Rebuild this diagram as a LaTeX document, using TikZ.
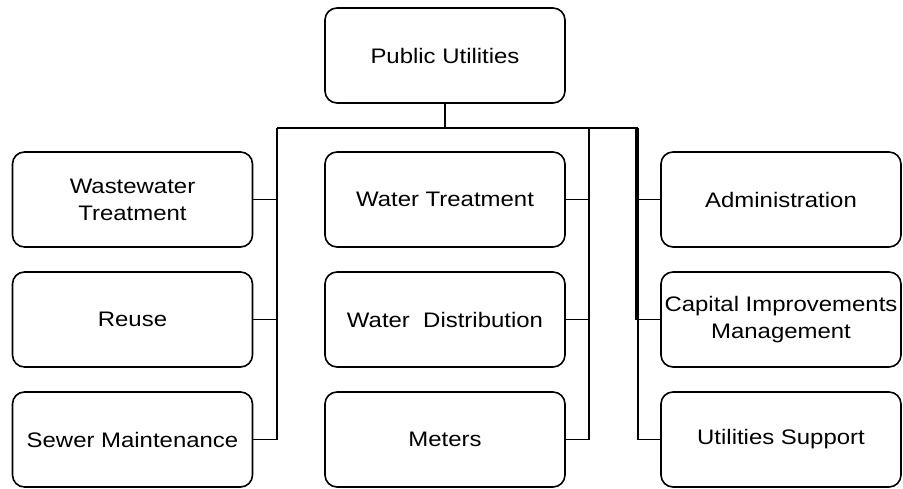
\documentclass[tikz,border=0pt]{standalone}
\usepackage{fontspec}
\setmainfont[FakeStretch=1.14]{Liberation Sans}
\begin{document}
\begin{tikzpicture}[x=1pt,y=-1pt,
  unit/.style={draw, line width=1.6pt, rounded corners=12pt, fill=white,
    minimum width=240pt, minimum height=95pt, align=center, inner sep=2pt,
    font=\fontsize{21}{27}\selectfont},
  link/.style={line width=1.6pt}]
  \useasboundingbox (0,0) rectangle (903,489);

  % head of the department
  \node[unit] (pu) at (445,55.5) {Public Utilities};

  % wastewater column
  \node[unit] (ww) at (132.5,199.5) {Wastewater\\Treatment};
  \node[unit] (ru) at (132.5,319.5) {Reuse};
  \node[unit] (sm) at (132.5,439.5) {Sewer Maintenance};

  % water column
  \node[unit] (wt) at (445,199.5) {Water Treatment};
  \node[unit] (wd) at (445,319.5) {Water\ \ Distribution};
  \node[unit] (me) at (445,439.5) {Meters};

  % support column
  \node[unit] (ad) at (781,199.5) {Administration};
  \node[unit] (ci) at (781,319.5) {Capital Improvements\\Management};
  \node[unit] (us) at (781,439.5) {Utilities Support};

  % junction points on the main bus
  \coordinate (jt) at (445,128);
  \coordinate (jl) at (277,128);
  \coordinate (jm) at (589,128);
  \coordinate (jr) at (638,128);
  \coordinate (jr2) at (636,128);

  \draw[link] (pu.south) -- (jt);
  \draw[link] (jl) -- (jr);

  % left branch
  \draw[link] (jl) -- (jl |- sm.east) -- (sm.east);
  \draw[link] (ww.east) -- (ww.east -| jl);
  \draw[link] (ru.east) -- (ru.east -| jl);

  % middle branch
  \draw[link] (jm) -- (jm |- me.east) -- (me.east);
  \draw[link] (wt.east) -- (wt.east -| jm);
  \draw[link] (wd.east) -- (wd.east -| jm);

  % right branch
  \draw[link] (jr) -- (jr |- us.west) -- (us.west);
  \draw[link] (jr2) -- (jr2 |- ci.west) -- (ci.west);
  \draw[link] (ad.west) -- (ad.west -| jr);
\end{tikzpicture}
\end{document}
